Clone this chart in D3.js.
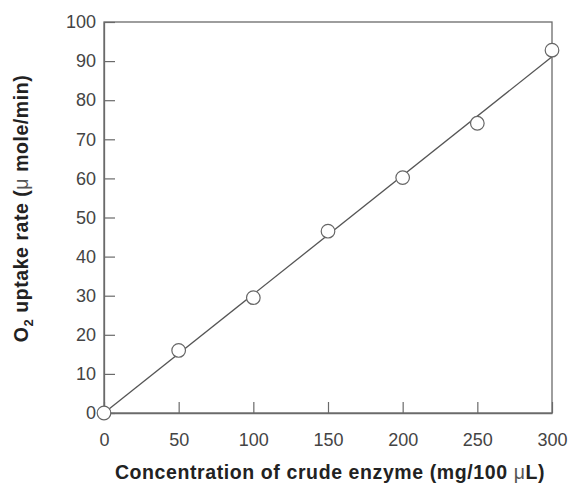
<!DOCTYPE html>
<html>
<head>
<meta charset="utf-8">
<script src="https://cdn.jsdelivr.net/npm/d3@7"></script>
<style>
  html, body { margin: 0; padding: 0; background: #fff; }
  svg { display: block; }
</style>
</head>
<body>
<svg id="chart" width="573" height="484"></svg>
<script>
// Data
const concentration = [0, 50, 100, 150, 200, 250, 300];
const uptakeRate    = [0, 16, 29.5, 46.5, 60.2, 74.1, 92.8];
// Fitted straight line (endpoints)
const fitX = [0, 300];
const fitY = [0, 91.1];
const xTicks = [0, 50, 100, 150, 200, 250, 300];
const yTicks = [0, 10, 20, 30, 40, 50, 60, 70, 80, 90, 100];

const svg = d3.select("#chart");
const margin = { left: 104, right: 21, top: 22, bottom: 71 };
const W = 573, H = 484;
const x = d3.scaleLinear().domain([0, 300]).range([margin.left, W - margin.right]);
const y = d3.scaleLinear().domain([0, 100]).range([H - margin.bottom, margin.top]);

const axisColor = "#6a6a6a";
const font = "'Liberation Sans', Arial, Helvetica, sans-serif";

// Frame
svg.append("rect")
  .attr("x", x(0)).attr("y", y(100))
  .attr("width", x(300) - x(0)).attr("height", y(0) - y(100))
  .attr("fill", "none").attr("stroke", axisColor).attr("stroke-width", 1.3);

// X axis (ticks inward)
const xAxis = svg.append("g")
  .attr("transform", `translate(0,${y(0)})`)
  .call(d3.axisBottom(x).tickValues(xTicks).tickSizeInner(-11).tickSizeOuter(0).tickPadding(20));
xAxis.select(".domain").attr("stroke", axisColor).attr("stroke-width", 1.3);
xAxis.selectAll(".tick line").attr("stroke", axisColor).attr("stroke-width", 1.2);
xAxis.selectAll(".tick text")
  .attr("font-family", font).attr("font-size", 18).attr("fill", "#444");

// Y axis (ticks inward)
const yAxis = svg.append("g")
  .attr("transform", `translate(${x(0)},0)`)
  .call(d3.axisLeft(y).tickValues(yTicks).tickSizeInner(-11).tickSizeOuter(0).tickPadding(8));
yAxis.select(".domain").attr("stroke", axisColor).attr("stroke-width", 1.3);
yAxis.selectAll(".tick line").attr("stroke", axisColor).attr("stroke-width", 1.2);
yAxis.selectAll(".tick text")
  .attr("font-family", font).attr("font-size", 18).attr("fill", "#444");

// Fit line
const line = d3.line().x(d => x(d[0])).y(d => y(d[1]));
svg.append("path")
  .datum(d3.zip(fitX, fitY))
  .attr("d", line)
  .attr("fill", "none").attr("stroke", "#555").attr("stroke-width", 1.3);

// Points
svg.selectAll("circle.pt")
  .data(d3.zip(concentration, uptakeRate))
  .join("circle")
  .attr("class", "pt")
  .attr("cx", d => x(d[0])).attr("cy", d => y(d[1]))
  .attr("r", 6.8)
  .attr("fill", "#fff").attr("stroke", "#666").attr("stroke-width", 1.2);

// X axis title
const xt = svg.append("text")
  .attr("x", (x(0) + x(300)) / 2 + 2).attr("y", 479)
  .attr("text-anchor", "middle")
  .attr("font-family", font).attr("font-size", 19.5).attr("font-weight", "bold")
  .attr("letter-spacing", 0.6)
  .attr("fill", "#222");
xt.append("tspan").text("Concentration of crude enzyme (mg/100 ");
xt.append("tspan").attr("font-weight", "normal").attr("fill", "#555").text("μ");
xt.append("tspan").text("L)");

// Y axis title
const yt = svg.append("text")
  .attr("transform", `translate(28,${(72 + 345) / 2}) rotate(-90)`)
  .attr("text-anchor", "middle")
  .attr("font-family", font).attr("font-size", 19.5).attr("font-weight", "bold")
  .attr("letter-spacing", 0.55)
  .attr("fill", "#222");
yt.append("tspan").text("O");
yt.append("tspan").attr("font-size", 13).attr("dy", 5).text("2");
yt.append("tspan").attr("dy", -5).text(" uptake rate (");
yt.append("tspan").attr("font-weight", "normal").attr("fill", "#555").text("μ");
yt.append("tspan").text(" mole/min)");
</script>
</body>
</html>
